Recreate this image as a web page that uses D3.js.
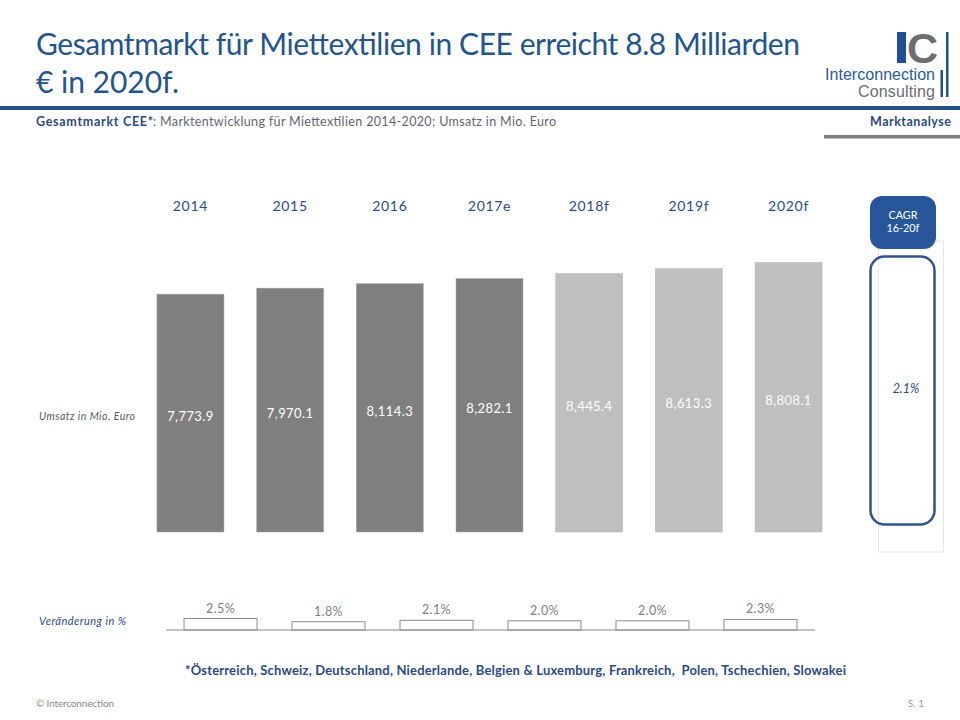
<!DOCTYPE html>
<html>
<head>
<meta charset="utf-8">
<script src="https://cdn.jsdelivr.net/npm/d3@7"></script>
<style>
  html, body { margin: 0; padding: 0; background: #fff; }
  svg { display: block; }
  text { font-family: Lato, "Noto Sans", sans-serif; }
</style>
</head>
<body>
<div id="chart"></div>
<script>
// data
const years = ["2014", "2015", "2016", "2017e", "2018f", "2019f", "2020f"];
const revenue = [7773.9, 7970.1, 8114.3, 8282.1, 8445.4, 8613.3, 8808.1];
const changeLabels = ["2014-15", "2015-16", "2016-17", "2017-18", "2018-19", "2019-20"];
const changePct = [2.5, 1.8, 2.1, 2.0, 2.0, 2.3];
const forecastFrom = 4; // ab 2018f helle Balken
const cagr = "2.1%";

const width = 960, height = 720;
const blue = "#22558f", navy = "#2b4a80";

const svg = d3.select("#chart").append("svg")
  .attr("width", width).attr("height", height);

function label(x, y, str, size, fill, opts = {}) {
  const t = svg.append("text")
    .attr("x", x).attr("y", y)
    .attr("font-size", size)
    .attr("fill", fill)
    .attr("text-anchor", opts.anchor || "start")
    .attr("font-weight", opts.weight || 400)
    .attr("font-style", opts.italic ? "italic" : "normal")
    .text(str);
  if (opts.len) t.attr("textLength", opts.len).attr("lengthAdjust", "spacing");
  if (opts.family) t.style("font-family", opts.family);
  return t;
}

// Kopfbereich
label(36, 55, "Gesamtmarkt für Miettextilien in CEE erreicht 8.8 Milliarden", 30, blue, { len: 764 });
label(36, 93, "€ in 2020f.", 30, blue, { len: 143 });
svg.append("rect").attr("x", 0).attr("y", 106).attr("width", width).attr("height", 4).attr("fill", blue);
label(36, 126, "Gesamtmarkt CEE*", 12.5, navy, { weight: 700, len: 117 });
label(153, 126, ": Marktentwicklung für Miettextilien 2014-2020; Umsatz in Mio. Euro", 12.5, "#5f6670", { len: 403 });
label(870, 126, "Marktanalyse", 12.5, navy, { weight: 700, len: 81 });
svg.append("rect").attr("x", 824).attr("y", 135).attr("width", 136).attr("height", 3.5).attr("fill", "#7f7f7f");

// Logo
svg.append("rect").attr("x", 897).attr("y", 32).attr("width", 9).attr("height", 31).attr("fill", "#1f4f94");
label(907, 63, "C", 43, "#6d6e70", { weight: 700, family: "'Liberation Sans', sans-serif" });
label(825, 80, "Interconnection", 16, "#2a5a9c", { len: 110, family: "'Liberation Sans', sans-serif" });
label(858, 97, "Consulting", 16, "#6d6e70", { len: 77, family: "'Liberation Sans', sans-serif" });
svg.append("rect").attr("x", 946).attr("y", 32).attr("width", 2.5).attr("height", 65).attr("fill", "#1f4f94");
svg.append("rect").attr("x", 940.5).attr("y", 70).attr("width", 2.5).attr("height", 27).attr("fill", "#1f4f94");

// Hauptbalken
const x = d3.scaleBand().domain(years).range([141, 838]).paddingInner(0.328).paddingOuter(0.16);
const y = d3.scaleLinear().domain([0, 8808.1]).range([532, 262.5]);

svg.append("g").selectAll("text.year")
  .data(years).enter().append("text")
  .attr("class", "year")
  .attr("x", d => x(d) + x.bandwidth() / 2)
  .attr("y", 211)
  .attr("text-anchor", "middle")
  .attr("font-size", 14)
  .attr("letter-spacing", 0.7)
  .attr("fill", navy)
  .text(d => d);

svg.append("g").selectAll("rect")
  .data(revenue).enter().append("rect")
  .attr("x", (d, i) => x(years[i]))
  .attr("y", d => y(d))
  .attr("width", x.bandwidth())
  .attr("height", d => y(0) - y(d))
  .attr("fill", (d, i) => i >= forecastFrom ? "#bfbfbf" : "#7f7f7f")
  .attr("stroke", (d, i) => i >= forecastFrom ? "#b4b4b4" : "#a6a6a6")
  .attr("stroke-width", 0.5);

svg.append("g").selectAll("text")
  .data(revenue).enter().append("text")
  .attr("x", (d, i) => x(years[i]) + x.bandwidth() / 2)
  .attr("y", d => (y(d) + y(0)) / 2 + 8)
  .attr("text-anchor", "middle")
  .attr("font-size", 13)
  .attr("letter-spacing", 0.4)
  .attr("fill", "#fff")
  .text(d => d3.format(",.1f")(d));

label(39, 420, "Umsatz in Mio. Euro", 10.5, "#55595f", { italic: true, len: 96 });

// CAGR
svg.append("rect").attr("x", 878.5).attr("y", 241).attr("width", 65).attr("height", 311)
  .attr("fill", "none").attr("stroke", "#e6e6e6").attr("stroke-width", 1);
svg.append("rect").attr("x", 870).attr("y", 196).attr("width", 66).attr("height", 53).attr("rx", 12)
  .attr("fill", "#27569b");
label(903, 219, "CAGR", 10.8, "#fff", { anchor: "middle" });
label(903, 232, "16-20f", 10.8, "#fff", { anchor: "middle" });
svg.append("rect").attr("x", 870.5).attr("y", 256.5).attr("width", 64).attr("height", 268).attr("rx", 14)
  .attr("fill", "none").attr("stroke", "#2f5590").attr("stroke-width", 2.5);
label(906, 393, cagr, 12.5, navy, { anchor: "middle", italic: true });

// Veränderung in %
const x2 = d3.scaleBand().domain(changeLabels).range([166, 815]).paddingInner(0.324).paddingOuter(0.167);
const y2 = d3.scaleLinear().domain([0, 2.5]).range([630, 618.5]);

label(39, 625, "Veränderung in %", 11, navy, { italic: true, len: 87 });

svg.append("g").selectAll("rect")
  .data(changePct).enter().append("rect")
  .attr("x", (d, i) => x2(changeLabels[i]))
  .attr("y", d => y2(d))
  .attr("width", x2.bandwidth())
  .attr("height", d => y2(0) - y2(d))
  .attr("fill", "#fff")
  .attr("stroke", "#8c8c8c")
  .attr("stroke-width", 1);

svg.append("g").selectAll("text")
  .data(changePct).enter().append("text")
  .attr("x", (d, i) => x2(changeLabels[i]) + x2.bandwidth() / 2)
  .attr("y", d => y2(d) - 6)
  .attr("text-anchor", "middle")
  .attr("font-size", 12.5)
  .attr("letter-spacing", 0.4)
  .attr("fill", "#7f7f7f")
  .text(d => d.toFixed(1) + "%");

svg.append("line").attr("x1", 166).attr("x2", 815).attr("y1", 630).attr("y2", 630)
  .attr("stroke", "#8c8c8c").attr("stroke-width", 1.2);

// Fussnote
label(185, 675, "*Österreich, Schweiz, Deutschland, Niederlande, Belgien & Luxemburg, Frankreich,  Polen, Tschechien, Slowakei", 13, navy, { weight: 700, len: 661 }).attr("xml:space", "preserve");
label(36, 707, "© Interconnection", 10, "#8a8a8a", { len: 78 });
label(924, 707, "S. 1", 10, "#9a9a9a", { anchor: "end" });
</script>
</body>
</html>
